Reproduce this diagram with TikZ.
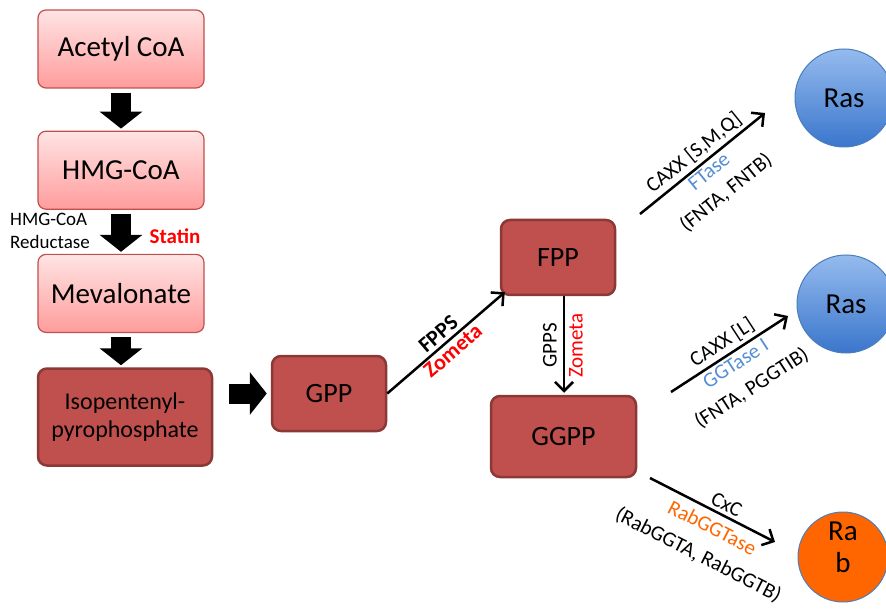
\documentclass[tikz,border=0pt]{standalone}
\usepackage{fontspec}
\setmainfont{Carlito}
\usetikzlibrary{arrows.meta, positioning, calc}

\definecolor{boxred}{HTML}{C0504D}
\definecolor{boxedge}{HTML}{8C3836}
\definecolor{pinktop}{HTML}{FFE4E4}
\definecolor{pinkbot}{HTML}{FF9C9C}
\definecolor{bluetop}{HTML}{95BBEE}
\definecolor{bluebot}{HTML}{3A76CC}
\definecolor{blueedge}{HTML}{4A7EBB}
\definecolor{enzblue}{HTML}{558ED5}
\definecolor{rabor}{HTML}{FF6600}

\begin{document}
\begin{tikzpicture}[x=1pt, y=-1pt, font=\fontsize{21}{27}\selectfont, light/.style={draw=boxred, line width=1.2pt, rounded corners=8pt, top color=pinktop, bottom color=pinkbot, minimum width=166pt, minimum height=78pt, font=\fontsize{29}{33}\selectfont}, dark/.style={draw=boxedge, line width=2.5pt, fill=boxred, rounded corners=9pt, align=center, font=\fontsize{28}{32}\selectfont}, rasball/.style={circle, draw=blueedge, line width=1pt, top color=bluetop, bottom color=bluebot, minimum size=98pt, inner sep=0pt, font=\fontsize{29}{33}\selectfont}, rabball/.style={circle, draw=blueedge, line width=1pt, fill=rabor, minimum size=90pt, inner sep=0pt, font=\fontsize{29}{32}\selectfont}, block/.style={line width=20pt, -{Triangle[length=17pt, width=42pt]}, shorten <=4pt, shorten >=2pt}, arrow/.style={line width=2.5pt, -{Straight Barb[length=9pt, width=18pt]}}, enz/.style={font=\bfseries\fontsize{22}{26}\selectfont}]

\useasboundingbox (0,0) rectangle (886,612);

\node[light] (acetyl) at (121,49) {Acetyl CoA};
\node[light, below=42pt of acetyl] (hmg) {HMG-CoA};
\node[light, below=44pt of hmg] (meva) {Mevalonate};
\node[dark, minimum width=174pt, minimum height=97pt, font=\fontsize{24}{28}\selectfont] (ipp) at (125,417) {Isopentenyl-\\pyrophosphate};
\node[dark, minimum width=114pt, minimum height=75pt] (gpp) at (329,393.5) {GPP};
\node[dark, minimum width=114pt, minimum height=75pt] (fpp) at (558,257.5) {FPP};
\node[dark, minimum width=145pt, minimum height=81pt] (ggpp) at (563.5,436.5) {GGPP};
\node[rasball] (ras1) at (844,98) {Ras};
\node[rasball] (ras2) at (846,304) {Ras};
\node[rabball] (rab) at (843,557) {\raisebox{1pt}[0pt][0pt]{\begin{tabular}{@{}c@{}}Ra\\b\end{tabular}}};

\node[align=left, anchor=west, inner sep=0pt, font=\fontsize{19}{23}\selectfont] (reductase) at (10,231) {HMG-CoA\\Reductase};
\node[text=red, font=\bfseries\fontsize{21}{24}\selectfont] (statin) at (175,236) {Statin};

\draw[block] (acetyl) -- (hmg);
\draw[block] (hmg) -- (meva);
\draw[block] (meva) -- (meva |- ipp.north);
\draw[block, shorten <=16pt, shorten >=4pt] (ipp.east |- gpp.west) -- (gpp.west);

\coordinate (fout) at (640,214);
\coordinate (rasin) at (765,113);
\coordinate (gout) at (671,392);
\coordinate (rasinb) at (788,316);
\coordinate (goutb) at (650,478);
\coordinate (rabin) at (775,542);

\draw[arrow] (gpp.east) -- ($(fpp.south west)+(5,-4)$) node[midway, above, sloped, enz] {FPPS} node[midway, below, sloped, enz, text=red, inner sep=2pt] {Zometa};
\draw[arrow, shorten >=2pt] ($(fpp.south)+(6,0)$) -- ($(fpp.south |- ggpp.north)+(6,0)$) node[midway, rotate=90, anchor=south, inner sep=6pt] {GPPS} node[midway, rotate=90, anchor=north, inner sep=4pt, text=red] {Zometa};
\draw[arrow] (fout) -- (rasin) node[midway, above, sloped] {CAXX [S,M,Q]} node[midway, below, sloped, align=center, inner sep=2pt] {\textcolor{enzblue}{FTase}\\(FNTA, FNTB)};
\draw[arrow] (gout) -- (rasinb) node[midway, above, sloped] {CAXX [L]} node[midway, below, sloped, align=center, inner sep=3pt, font=\fontsize{21}{29}\selectfont] {\textcolor{enzblue}{GGTase I}\\(FNTA, PGGTIB)};
\draw[arrow] (goutb) -- (rabin) node[midway, above, sloped, xshift=10pt] {CxC} node[midway, below, sloped, align=center, inner sep=7pt, xshift=8pt, font=\fontsize{21}{30}\selectfont] {\textcolor{rabor}{RabGGTase}\\(RabGGTA, RabGGTB)};

\end{tikzpicture}
\end{document}
